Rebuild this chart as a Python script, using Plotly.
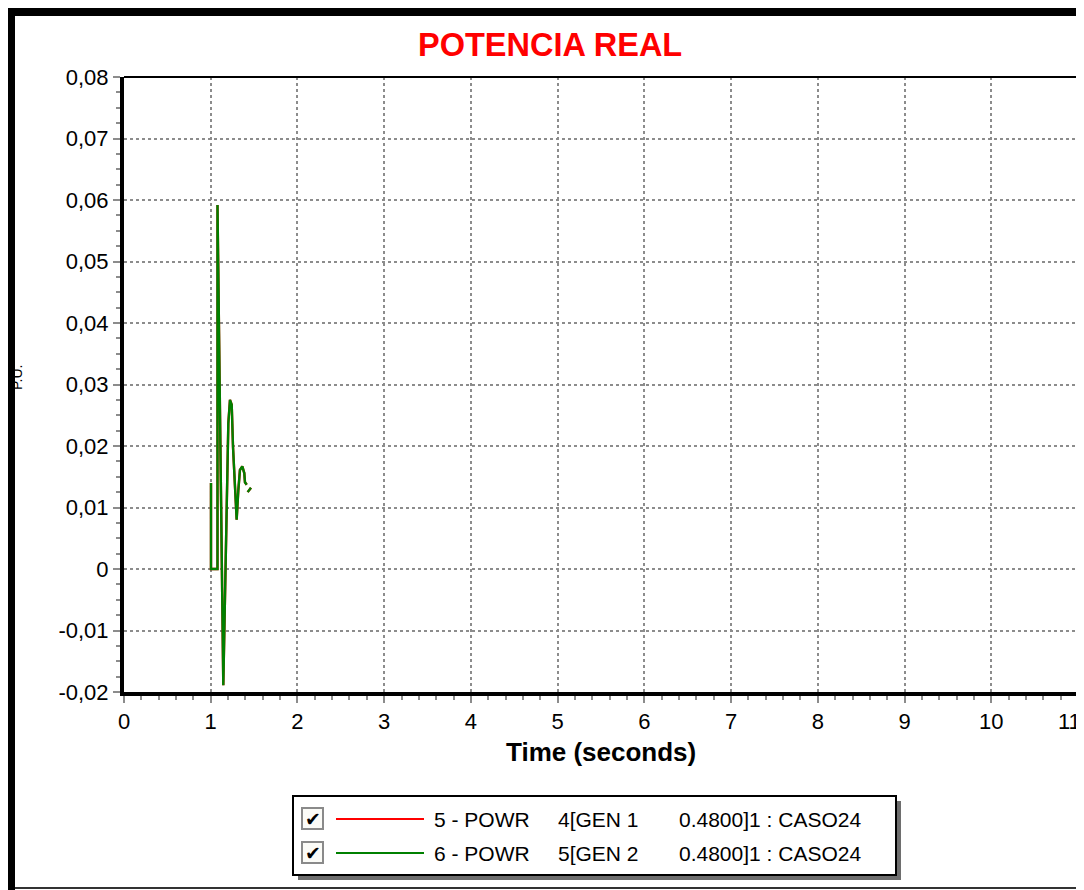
import plotly.graph_objects as go

# ---- data ----
time_s = [1.003, 1.003, 1.078, 1.078, 1.145, 1.176, 1.203, 1.222, 1.242, 1.257,
          1.280, 1.299, 1.318, 1.337, 1.364, 1.387, 1.395, 1.415, None, 1.426, 1.464]
powr_gen1 = [0.0140, 0.0, 0.0, 0.0592, -0.0189, 0.0063, 0.0237, 0.0275, 0.0267, 0.0198,
             0.0128, 0.0080, 0.0128, 0.0161, 0.0167, 0.0156, 0.0141, 0.0137, None, 0.0125, 0.0132]
powr_gen2 = [0.0140, 0.0, 0.0, 0.0592, -0.0189, 0.0063, 0.0237, 0.0275, 0.0267, 0.0198,
             0.0128, 0.0080, 0.0128, 0.0161, 0.0167, 0.0156, 0.0141, 0.0137, None, 0.0125, 0.0132]
series_labels = ["5 - POWR", "6 - POWR"]
series_buses = ["4[GEN 1", "5[GEN 2"]
series_tails = ["0.4800]1 : CASO24", "0.4800]1 : CASO24"]
series_colors = ["#ff0000", "#008000"]
x_ticks = list(range(0, 12))
y_tickvals = [-0.02, -0.01, 0.0, 0.01, 0.02, 0.03, 0.04, 0.05, 0.06, 0.07, 0.08]
y_ticktext = ["-0,02", "-0,01", "0", "0,01", "0,02", "0,03", "0,04", "0,05", "0,06", "0,07", "0,08"]

OFF = 8  # page body margin
W, H = 1084 - OFF, 890 - OFF
PL, PR, PT, PB = 124, 1078, 77, 692  # plot area bounds in screen pixels


def px(x):
    return (x - PL) / (PR - PL)


def py(y):
    return (PB - y) / (PB - PT)


FONT = "Liberation Sans, Arial, sans-serif"

fig = go.Figure()
for vals, col in zip([powr_gen1, powr_gen2], series_colors):
    fig.add_trace(go.Scatter(x=time_s, y=vals, mode="lines",
                             line=dict(color=col, width=2.4),
                             connectgaps=False, showlegend=False, hoverinfo="skip"))

shapes = []
annotations = []

# outer frame
shapes.append(dict(type="rect", xref="paper", yref="paper", x0=px(7), x1=px(15), y0=py(895), y1=py(8),
                   fillcolor="black", line=dict(width=0), layer="above"))
shapes.append(dict(type="rect", xref="paper", yref="paper", x0=px(7), x1=px(1095), y0=py(16), y1=py(8),
                   fillcolor="black", line=dict(width=0), layer="above"))
shapes.append(dict(type="line", xref="paper", yref="paper", x0=px(15), x1=px(1095), y0=py(888), y1=py(888),
                   line=dict(color="#333333", width=2)))
# plot frame top / right thin lines
shapes.append(dict(type="line", xref="paper", yref="paper", x0=0, x1=1, y0=1, y1=1,
                   line=dict(color="black", width=2), layer="above"))
shapes.append(dict(type="line", xref="paper", yref="paper", x0=1, x1=1, y0=0, y1=1,
                   line=dict(color="black", width=2), layer="above"))

# legend box with shadow
shapes.append(dict(type="rect", xref="paper", yref="paper", x0=px(298), x1=px(901), y0=py(880), y1=py(801),
                   fillcolor="#6e6e6e", line=dict(width=0)))
shapes.append(dict(type="rect", xref="paper", yref="paper", x0=px(293), x1=px(896), y0=py(875), y1=py(796),
                   fillcolor="white", line=dict(color="black", width=2)))
row_y = [819, 853]
for i in range(2):
    yc = row_y[i]
    # checkbox
    shapes.append(dict(type="rect", xref="paper", yref="paper", x0=px(302), x1=px(323), y0=py(yc + 10), y1=py(yc - 11),
                       fillcolor="#fbfbf7", line=dict(color="#8a8a8a", width=2)))
    annotations.append(dict(xref="paper", yref="paper", x=px(312.5), y=py(yc), text="<b>✔</b>", showarrow=False,
                            font=dict(family="DejaVu Sans", size=19, color="black"), xanchor="center", yanchor="middle"))
    shapes.append(dict(type="line", xref="paper", yref="paper", x0=px(336), x1=px(424), y0=py(yc), y1=py(yc),
                       line=dict(color=series_colors[i], width=2)))
    annotations.append(dict(xref="paper", yref="paper", x=px(432), y=py(yc), text=series_labels[i], showarrow=False,
                            font=dict(family=FONT, size=21, color="black"), xanchor="left", yanchor="middle"))
    annotations.append(dict(xref="paper", yref="paper", x=px(556), y=py(yc), text=series_buses[i], showarrow=False,
                            font=dict(family=FONT, size=21, color="black"), xanchor="left", yanchor="middle"))
    annotations.append(dict(xref="paper", yref="paper", x=px(677), y=py(yc), text=series_tails[i], showarrow=False,
                            font=dict(family=FONT, size=21, color="black"), xanchor="left", yanchor="middle"))

# last x tick label (at the very edge of the figure)
annotations.append(dict(xref="paper", yref="paper", x=px(1083), y=py(721), text=str(x_ticks[-1]),
                        showarrow=False, font=dict(family=FONT, size=22, color="black"),
                        xanchor="right", yanchor="middle"))
# x axis title
annotations.append(dict(xref="paper", yref="paper", x=px(601), y=py(752), text="<b>Time (seconds)</b>",
                        showarrow=False, font=dict(family=FONT, size=26, color="black"),
                        xanchor="center", yanchor="middle"))
# y axis title (mostly hidden behind the frame)
annotations.append(dict(xref="paper", yref="paper", x=px(17), y=py(378), text="P.U.", textangle=-90,
                        showarrow=False, font=dict(family=FONT, size=14, color="black"),
                        xanchor="center", yanchor="middle"))
# title
annotations.append(dict(xref="paper", yref="paper", x=px(550), y=py(45), text="<b>POTENCIA REAL</b>",
                        showarrow=False, font=dict(family=FONT, size=32.5, color="#ff0000"),
                        xanchor="center", yanchor="middle"))

fig.update_layout(
    width=W, height=H,
    margin=dict(l=PL - OFF, r=W - (PR - OFF), t=PT - OFF, b=H - (PB - OFF), pad=0),
    paper_bgcolor="white", plot_bgcolor="white",
    shapes=shapes, annotations=annotations,
    showlegend=False,
    xaxis=dict(range=[0, 11], tickvals=x_ticks, ticktext=[str(v) for v in x_ticks],
               showgrid=True, gridcolor="#8c8c8c", gridwidth=1.5, griddash="dot",
               showline=True, linecolor="black", linewidth=4,
               ticks="outside", ticklen=7, tickwidth=2, tickcolor="#8c8c8c",
               minor=dict(ticks="outside", ticklen=4, tickwidth=2, tickcolor="#8c8c8c", dtick=0.2, showgrid=False),
               tickfont=dict(family=FONT, size=22, color="black"), zeroline=False, fixedrange=True),
    yaxis=dict(range=[-0.02, 0.08], tickvals=y_tickvals, ticktext=y_ticktext,
               showgrid=True, gridcolor="#8c8c8c", gridwidth=1.5, griddash="dot",
               showline=True, linecolor="black", linewidth=4,
               ticks="outside", ticklen=7, tickwidth=2, tickcolor="#8c8c8c",
               minor=dict(ticks="outside", ticklen=4, tickwidth=2, tickcolor="#8c8c8c", dtick=0.0025, showgrid=False),
               tickfont=dict(family=FONT, size=22, color="black"), zeroline=False, fixedrange=True),
)

fig.write_html("out.html")
